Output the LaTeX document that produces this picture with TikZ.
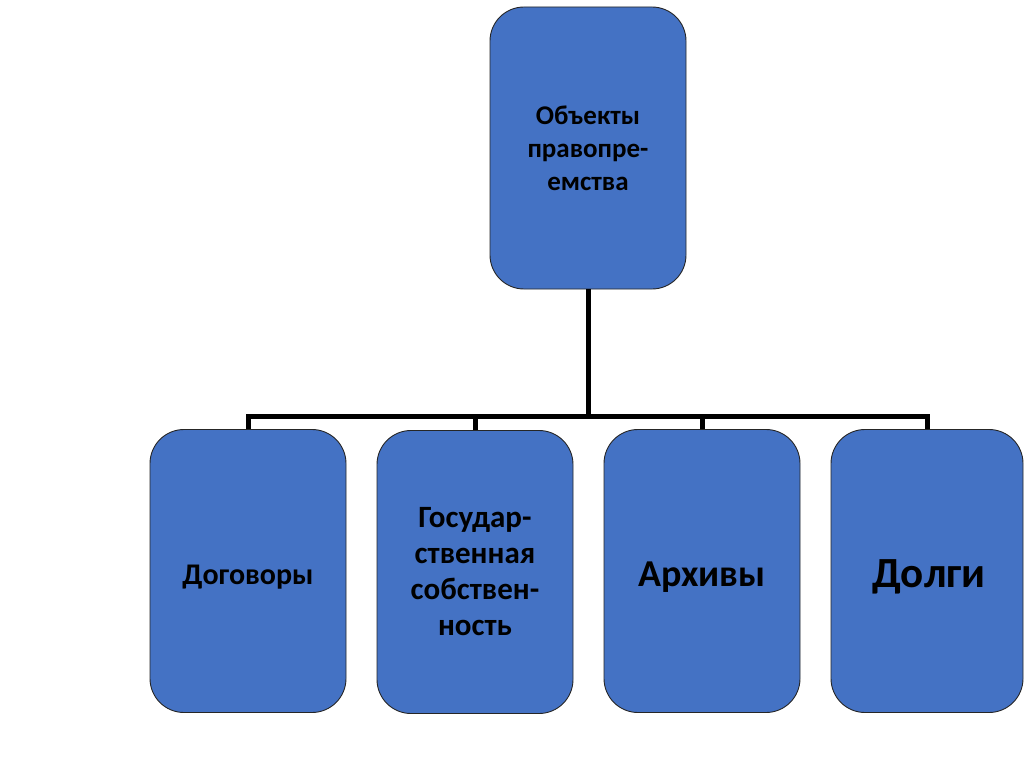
\documentclass[tikz,border=0pt]{standalone}
\usepackage{fontspec}
\setmainfont{Carlito}
\begin{document}
\begin{tikzpicture}[x=1pt,y=-1pt,
  box/.style={draw=black!85, line width=0.9pt, fill=boxblue, rounded corners=34pt,
    minimum width=196pt, minimum height=283pt, align=center, inner sep=0pt,
    font=\bfseries},
  lbl/.style={align=center, inner sep=0pt},
  conn/.style={line width=5pt, draw=black}]
\definecolor{boxblue}{HTML}{4472C4}
\useasboundingbox (0,0) rectangle (1024,767);
\node[box, minimum width=196pt, minimum height=282pt, font=\bfseries\fontsize{27}{33}\selectfont] (top) at (588,148) {Объекты\\правопре-\\емства};
\node[box] (b1) at (248,571) {};
\node[lbl, font=\bfseries\fontsize{30}{36}\selectfont] (t1) at (248,577) {Договоры};
\node[box, font=\bfseries\fontsize{31}{36}\selectfont] (b2) at (475,572) {Государ-\\ственная\\собствен-\\ность};
\node[box] (b3) at (702,571) {};
\node[lbl, font=\bfseries\fontsize{38}{40}\selectfont] (t3) at (702,577) {Архивы};
\node[box, minimum width=192pt] (b4) at (927,571) {};
\node[lbl, font=\bfseries\fontsize{43}{46}\selectfont] (t4) at (929,577) {Долги};
\coordinate (j) at (588,416);
\draw[conn] (top.south) -- (j);
\draw[conn] (b1.north) -- (b1.north |- j) -- (b4.north |- j) -- (b4.north);
\draw[conn] (b2.north) -- (b2.north |- j);
\draw[conn] (b3.north) -- (b3.north |- j);
\end{tikzpicture}
\end{document}
